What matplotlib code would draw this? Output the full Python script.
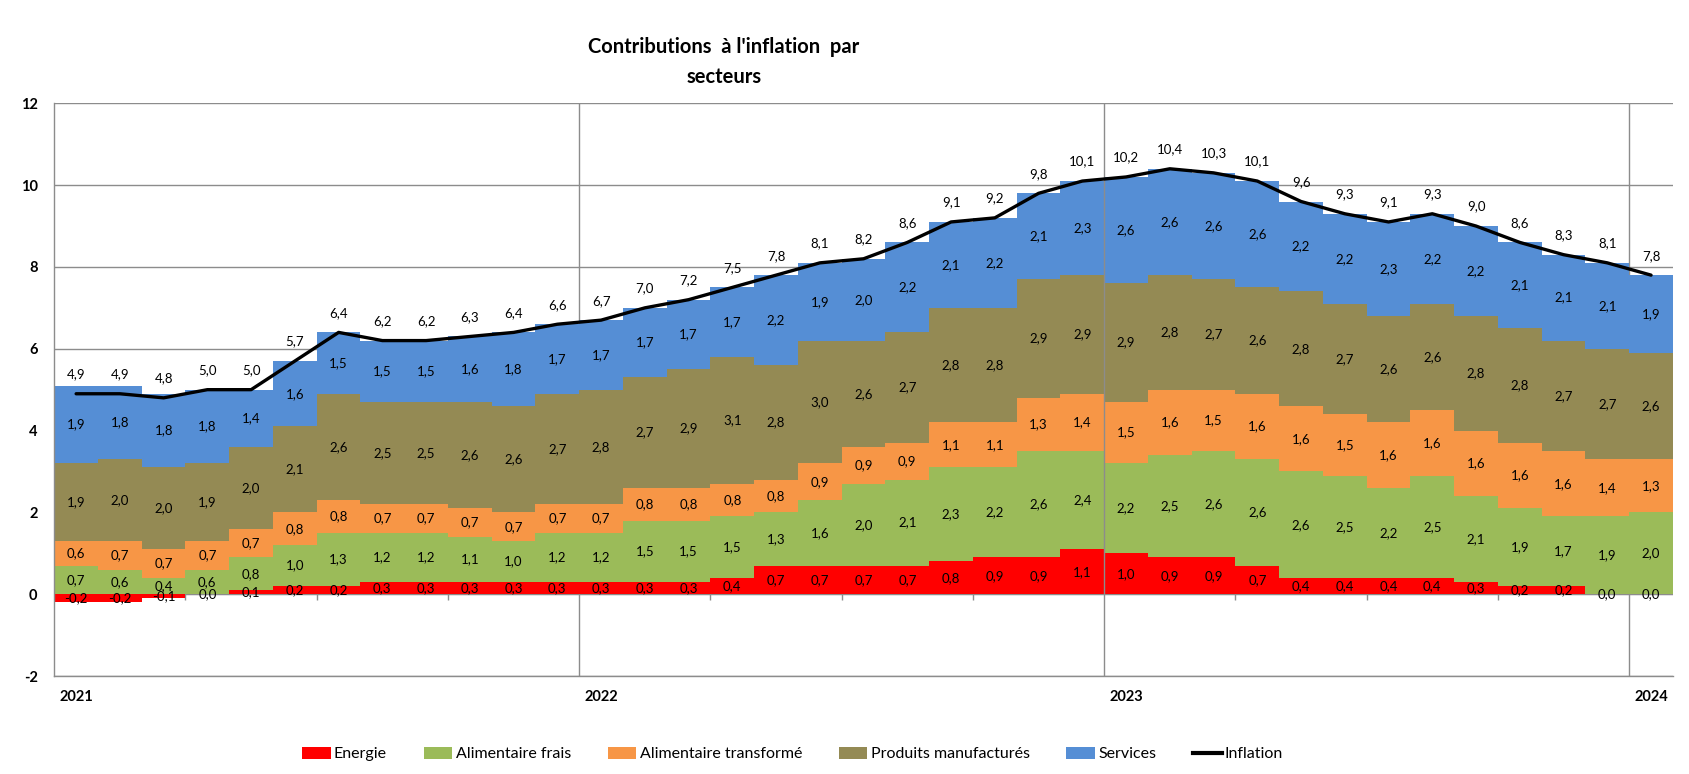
import numpy as np
import matplotlib.pyplot as plt
from matplotlib.patches import Patch
from matplotlib.lines import Line2D

plt.rcParams['font.family'] = ['Lato', 'DejaVu Sans']

# monthly contributions, Jan 2021 -> Jan 2024
years = ['2021', '2022', '2023', '2024']

energie = [-0.2, -0.2, -0.1, 0.0, 0.1, 0.2, 0.2, 0.3, 0.3, 0.3, 0.3, 0.3,
           0.3, 0.3, 0.3, 0.4, 0.7, 0.7, 0.7, 0.7, 0.8, 0.9, 0.9, 1.1,
           1.0, 0.9, 0.9, 0.7, 0.4, 0.4, 0.4, 0.4, 0.3, 0.2, 0.2, 0.0,
           0.0]
alim_frais = [0.7, 0.6, 0.4, 0.6, 0.8, 1.0, 1.3, 1.2, 1.2, 1.1, 1.0, 1.2,
              1.2, 1.5, 1.5, 1.5, 1.3, 1.6, 2.0, 2.1, 2.3, 2.2, 2.6, 2.4,
              2.2, 2.5, 2.6, 2.6, 2.6, 2.5, 2.2, 2.5, 2.1, 1.9, 1.7, 1.9,
              2.0]
alim_transf = [0.6, 0.7, 0.7, 0.7, 0.7, 0.8, 0.8, 0.7, 0.7, 0.7, 0.7, 0.7,
               0.7, 0.8, 0.8, 0.8, 0.8, 0.9, 0.9, 0.9, 1.1, 1.1, 1.3, 1.4,
               1.5, 1.6, 1.5, 1.6, 1.6, 1.5, 1.6, 1.6, 1.6, 1.6, 1.6, 1.4,
               1.3]
manufactures = [1.9, 2.0, 2.0, 1.9, 2.0, 2.1, 2.6, 2.5, 2.5, 2.6, 2.6, 2.7,
                2.8, 2.7, 2.9, 3.1, 2.8, 3.0, 2.6, 2.7, 2.8, 2.8, 2.9, 2.9,
                2.9, 2.8, 2.7, 2.6, 2.8, 2.7, 2.6, 2.6, 2.8, 2.8, 2.7, 2.7,
                2.6]
services = [1.9, 1.8, 1.8, 1.8, 1.4, 1.6, 1.5, 1.5, 1.5, 1.6, 1.8, 1.7,
            1.7, 1.7, 1.7, 1.7, 2.2, 1.9, 2.0, 2.2, 2.1, 2.2, 2.1, 2.3,
            2.6, 2.6, 2.6, 2.6, 2.2, 2.2, 2.3, 2.2, 2.2, 2.1, 2.1, 2.1,
            1.9]
inflation = [4.9, 4.9, 4.8, 5.0, 5.0, 5.7, 6.4, 6.2, 6.2, 6.3, 6.4, 6.6,
             6.7, 7.0, 7.2, 7.5, 7.8, 8.1, 8.2, 8.6, 9.1, 9.2, 9.8, 10.1,
             10.2, 10.4, 10.3, 10.1, 9.6, 9.3, 9.1, 9.3, 9.0, 8.6, 8.3, 8.1,
             7.8]

names = ['Energie', 'Alimentaire frais', 'Alimentaire transformé',
         'Produits manufacturés', 'Services']
colors = ['#FF0000', '#9BBB59', '#F79646', '#948A54', '#558ED5']
series = [energie, alim_frais, alim_transf, manufactures, services]


def fmt(v):
    return f"{v:.1f}".replace('.', ',')


n = len(inflation)
x = np.arange(n)
grid_col = '#8c8c8c'

fig = plt.figure(figsize=(16.9, 7.74), dpi=100)
ax = fig.add_axes([0.0321, 0.1266, 0.9578, 0.7399])

pos_base = np.zeros(n)
neg_base = np.zeros(n)
for vals, col in zip(series, colors):
    v = np.array(vals)
    bottom = np.where(v >= 0, pos_base, neg_base)
    ax.bar(x, v, width=1.0, bottom=bottom, align='edge', color=col,
           linewidth=0, zorder=2)
    for xi, b, vi in zip(x, bottom, v):
        ax.text(xi + 0.5, b + vi / 2, fmt(vi), ha='center', va='center',
                fontsize=9.5, color='black', zorder=6)
    pos_base += np.where(v > 0, v, 0)
    neg_base += np.where(v < 0, v, 0)

ax.plot(x + 0.5, inflation, color='black', lw=2.4, zorder=4,
        solid_capstyle='round')
for xi, v in zip(x, inflation):
    ax.annotate(fmt(v), (xi + 0.5, v), xytext=(0, 14),
                textcoords='offset points', ha='center', va='center',
                fontsize=9.5, zorder=6)

ax.set_xlim(0, n)
ax.set_ylim(-2, 12)
ax.set_yticks(range(-2, 13, 2))
ax.set_yticklabels([str(t) for t in range(-2, 13, 2)], fontweight='bold',
                   fontsize=10.5)
ax.tick_params(axis='y', length=0, pad=12)
ax.set_xticks([])
ax.grid(axis='y', color=grid_col, lw=1, zorder=0)
ax.set_axisbelow(True)

for s in ['top', 'right']:
    ax.spines[s].set_visible(False)
for s in ['left', 'bottom']:
    ax.spines[s].set_color(grid_col)
    ax.spines[s].set_linewidth(1)

# year boundaries
ax.vlines([12, 36], -2, 12, colors=grid_col, lw=1, zorder=1)
ax.vlines([24], -2, 12, colors=grid_col, lw=1, zorder=3)
ax.axhline(0, color=grid_col, lw=0.8, zorder=1)
quarters = [q for q in range(3, n, 3) if q % 12 != 0]
ax.vlines(quarters, -0.13, 0, colors=grid_col, lw=1, zorder=1)

for i, yr in enumerate(years):
    ax.annotate(yr, (i * 12, -2), xytext=(4, -15), textcoords='offset points',
                ha='left', va='center', fontsize=10.5, fontweight='bold')

fig.text(724 / 1690, 1 - 47 / 774, "Contributions  à l'inflation  par",
         ha='center', va='center', fontsize=14.5, fontweight='bold')
fig.text(724 / 1690, 1 - 77 / 774, "secteurs",
         ha='center', va='center', fontsize=14.5, fontweight='bold')

handles = [Patch(facecolor=c, edgecolor='none') for c in colors]
handles.append(Line2D([], [], color='black', lw=3))
fig.legend(handles, names + ['Inflation'], loc='center',
           bbox_to_anchor=(0.469, 1 - 754 / 774), ncol=6, frameon=False,
           fontsize=11.5, handlelength=1.8, handleheight=0.85,
           handletextpad=0.2, columnspacing=2.3)

fig.savefig('out.png', dpi=100)
